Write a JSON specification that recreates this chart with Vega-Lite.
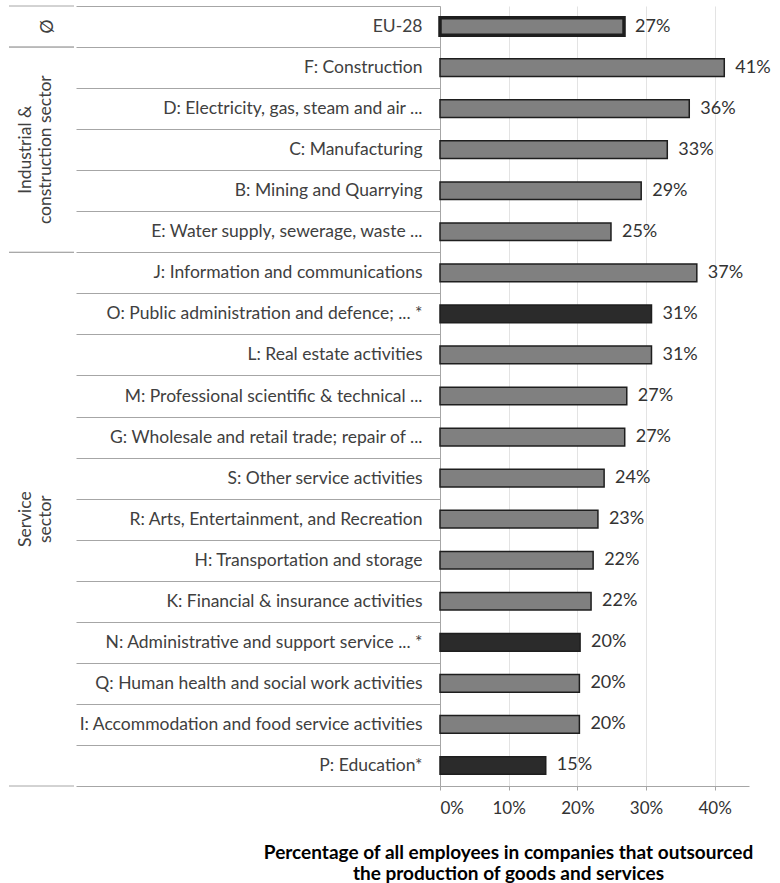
{
  "$schema": "https://vega.github.io/schema/vega-lite/v6.json",
  "padding": {"left": 8, "top": -3, "right": 5, "bottom": 0},
  "config": {
    "view": {"stroke": null},
    "font": "Lato",
    "text": {"font": "Lato"}
  },
  "datasets": {
    "rows": [
      {"label": "EU-28", "value": 0.268, "kind": "average"},
      {"label": "F: Construction", "value": 0.414, "kind": "sector"},
      {"label": "D: Electricity, gas, steam and air ...", "value": 0.363, "kind": "sector"},
      {"label": "C: Manufacturing", "value": 0.331, "kind": "sector"},
      {"label": "B: Mining and Quarrying", "value": 0.293, "kind": "sector"},
      {"label": "E: Water supply, sewerage, waste ...", "value": 0.249, "kind": "sector"},
      {"label": "J: Information and communications", "value": 0.374, "kind": "sector"},
      {"label": "O: Public administration and defence; ... *", "value": 0.308, "kind": "starred"},
      {"label": "L: Real estate activities", "value": 0.308, "kind": "sector"},
      {"label": "M: Professional scientific & technical ...", "value": 0.272, "kind": "sector"},
      {"label": "G: Wholesale and retail trade; repair of ...", "value": 0.269, "kind": "sector"},
      {"label": "S: Other service activities", "value": 0.239, "kind": "sector"},
      {"label": "R: Arts, Entertainment, and Recreation", "value": 0.23, "kind": "sector"},
      {"label": "H: Transportation and storage", "value": 0.223, "kind": "sector"},
      {"label": "K: Financial & insurance activities", "value": 0.22, "kind": "sector"},
      {"label": "N: Administrative and support service ... *", "value": 0.204, "kind": "starred"},
      {"label": "Q: Human health and social work activities", "value": 0.203, "kind": "sector"},
      {"label": "I: Accommodation and food service activities", "value": 0.203, "kind": "sector"},
      {"label": "P: Education*", "value": 0.154, "kind": "starred"}
    ],
    "groups": [
      {"group": "Ø", "lines": 1, "first": "EU-28", "mid": "EU-28", "last": "EU-28"},
      {"group": "Industrial &\nconstruction sector", "lines": 2, "first": "F: Construction", "mid": "C: Manufacturing", "last": "E: Water supply, sewerage, waste ..."},
      {"group": "Service\nsector", "lines": 2, "first": "J: Information and communications", "mid": "R: Arts, Entertainment, and Recreation", "last": "P: Education*"}
    ]
  },
  "spacing": 0,
  "hconcat": [
    {
      "width": 65,
      "height": 780,
      "data": {"name": "groups"},
      "layer": [
        {
          "mark": {"type": "rule", "color": "#a6a6a6", "strokeWidth": 1},
          "encoding": {
            "y": {"field": "first", "type": "nominal", "bandPosition": 0, "axis": null,
              "scale": {"padding": 0, "domain": ["EU-28", "F: Construction", "D: Electricity, gas, steam and air ...", "C: Manufacturing", "B: Mining and Quarrying", "E: Water supply, sewerage, waste ...", "J: Information and communications", "O: Public administration and defence; ... *", "L: Real estate activities", "M: Professional scientific & technical ...", "G: Wholesale and retail trade; repair of ...", "S: Other service activities", "R: Arts, Entertainment, and Recreation", "H: Transportation and storage", "K: Financial & insurance activities", "N: Administrative and support service ... *", "Q: Human health and social work activities", "I: Accommodation and food service activities", "P: Education*"]}}
          }
        },
        {
          "mark": {"type": "rule", "color": "#a6a6a6", "strokeWidth": 1},
          "encoding": {
            "y": {"field": "last", "type": "nominal", "bandPosition": 1, "axis": null}
          }
        },
        {
          "transform": [{"filter": "datum.lines === 1"}],
          "mark": {"type": "text", "angle": 270, "align": "center", "baseline": "middle", "dy": 6, "fontSize": 17.5, "color": "#404040"},
          "encoding": {
            "y": {"field": "mid", "type": "nominal", "axis": null},
            "text": {"field": "group", "type": "nominal"}
          }
        },
        {
          "transform": [{"filter": "datum.lines === 2"}],
          "mark": {"type": "text", "angle": 270, "align": "center", "baseline": "middle", "dy": -15.5, "fontSize": 17.5, "lineHeight": 20, "lineBreak": "\n", "color": "#404040"},
          "encoding": {
            "y": {"field": "mid", "type": "nominal", "axis": null},
            "text": {"field": "group", "type": "nominal"}
          }
        }
      ]
    },
    {
      "width": 309,
      "height": 780,
      "data": {"name": "rows"},
      "encoding": {
        "y": {
          "field": "label", "type": "nominal",
          "scale": {"padding": 0, "domain": ["EU-28", "F: Construction", "D: Electricity, gas, steam and air ...", "C: Manufacturing", "B: Mining and Quarrying", "E: Water supply, sewerage, waste ...", "J: Information and communications", "O: Public administration and defence; ... *", "L: Real estate activities", "M: Professional scientific & technical ...", "G: Wholesale and retail trade; repair of ...", "S: Other service activities", "R: Arts, Entertainment, and Recreation", "H: Transportation and storage", "K: Financial & insurance activities", "N: Administrative and support service ... *", "Q: Human health and social work activities", "I: Accommodation and food service activities", "P: Education*"]},
          "axis": {
            "title": null,
            "domainColor": "#a6a6a6",
            "ticks": true,
            "tickBand": "extent",
            "tickSize": 364,
            "tickColor": "#a6a6a6",
            "labelPadding": -346,
            "labelFontSize": 17.5,
            "labelColor": "#404040",
            "labelLimit": 400
          }
        },
        "x": {
          "field": "value", "type": "quantitative",
          "scale": {"domain": [0, 0.45], "nice": false},
          "axis": {
            "title": ["Percentage of all employees in companies that outsourced", "the production of goods and services"],
            "titleFontSize": 19,
            "titleFontWeight": "bold",
            "titleColor": "#000000",
            "titleX": 68,
            "titleY": 72,
            "titleAlign": "center",
            "titleBaseline": "alphabetic",
            "titleLineHeight": 21,
            "values": [0, 0.1, 0.2, 0.3, 0.4],
            "format": ".0%",
            "labelFontSize": 17,
            "labelColor": "#333333",
            "labelPadding": 10,
            "tickSize": 4,
            "tickColor": "#a6a6a6",
            "domainColor": "#a6a6a6",
            "grid": true,
            "gridColor": "#e3e3e3"
          }
        }
      },
      "layer": [
        {
          "mark": {"type": "bar", "height": {"band": 0.43}, "stroke": "#1e1e1e"},
          "encoding": {
            "color": {
              "field": "kind", "type": "nominal", "legend": null,
              "scale": {"domain": ["average", "sector", "starred"], "range": ["#808080", "#808080", "#2b2b2b"]}
            },
            "strokeWidth": {"condition": {"test": "datum.kind === 'average'", "value": 3.5}, "value": 1.5}
          }
        },
        {
          "mark": {"type": "text", "align": "left", "baseline": "middle", "dx": 11, "fontSize": 18, "color": "#333333"},
          "encoding": {
            "text": {"field": "value", "type": "quantitative", "format": ".0%"}
          }
        }
      ]
    }
  ]
}
